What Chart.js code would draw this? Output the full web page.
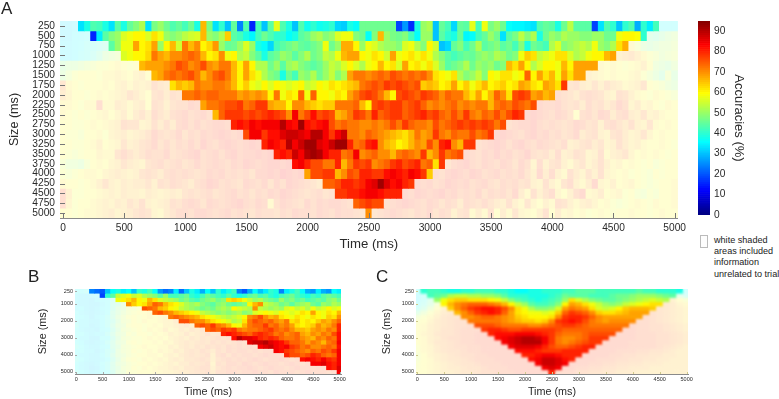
<!DOCTYPE html>
<html>
<head>
<meta charset="utf-8">
<script src="https://cdn.jsdelivr.net/npm/chart.js@4"></script>
<style>
body { margin: 0; background: #fff; font-family: "Liberation Sans", sans-serif; color: #222; }
canvas, .txt, .box { position: absolute; }
.letter { font-size: 17px; line-height: 17px; }
.note { font-size: 9.1px; line-height: 11.2px; left: 714px; top: 235px; white-space: nowrap; }
.box { left: 700px; top: 235px; width: 6px; height: 11px; border: 1px solid #bbb; background: #fdfdfd; }
</style>
</head>
<body>
<canvas id="panel-a" width="690" height="252" style="left:0;top:0"></canvas>
<canvas id="panel-b" width="320" height="119" style="left:30px;top:280px"></canvas>
<canvas id="panel-c" width="320" height="119" style="left:375px;top:280px"></canvas>
<canvas id="colorbar" width="56" height="225" style="left:690px;top:0"></canvas>
<div class="txt letter" style="left:1px;top:0">A</div>
<div class="txt letter" style="left:28px;top:268px">B</div>
<div class="txt letter" style="left:376px;top:268px">C</div>
<div class="box"></div>
<div class="txt note">white shaded<br>areas included<br>information<br>unrelated to trial</div>
<script>
var sizes = [250,500,750,1000,1250,1500,1750,2000,2250,2500,2750,3000,3250,3500,3750,4000,4250,4500,4750,5000];
var sizeTicksSmall = [250,1000,2000,3000,4000,5000];
var timeTicks = [0,500,1000,1500,2000,2500,3000,3500,4000,4500,5000];
var colorbarTicks = [0,10,20,30,40,50,60,70,80,90];

// panel A, 50 ms bins. left / right = shaded cells outside the trial window
var aLeft = [
[33,33,34],
[33,33,35,35,36],
[34,34,35,36,38,38,40,42],
[34,34,35,37,38,40,44,50,52,54],
[48,50,50,52,54,56,58,58,60,62,60,58,60],
[50,54,58,60,60,60,58,62,62,64,62,60,64,66,60],
[72,62,60,58,60,60,60,62,60,64,66,62,66,64,66,74,70,68],
[68,64,60,60,58,60,62,60,62,64,66,72,68,64,60,72,74,68,74,72],
[62,62,60,58,62,62,76,62,62,68,66,62,66,68,60,74,72,66,72,74,74,78,76],
[62,60,58,60,58,60,62,64,60,64,68,62,68,72,66,76,72,68,74,76,78,74,76,78,74],
[60,60,58,58,60,62,60,62,64,66,74,72,72,64,66,74,68,74,68,76,78,74,78,74,76,78,78,76],
[60,58,58,56,60,60,62,58,64,66,68,64,66,68,72,78,74,72,74,78,72,76,74,78,76,78,80,78,76,78],
[60,60,58,58,60,62,66,60,62,64,72,66,68,72,74,78,72,76,72,76,74,78,74,80,76,74,78,80,78,76,78,80,78],
[60,58,56,58,60,60,64,62,62,72,76,72,68,72,76,74,74,78,72,74,76,78,80,74,76,78,74,78,80,76,78,78,80,78,80],
[56,52,52,50,56,60,62,60,64,66,72,68,66,64,72,74,76,72,74,76,72,74,78,74,76,78,76,74,78,76,80,78,76,78,80,80,78,80],
[58,56,58,60,62,62,60,64,66,68,66,64,66,72,74,72,68,74,76,74,76,74,72,74,78,76,78,74,76,74,76,72,78,78,80,78,82,80,78,80],
[62,60,60,58,60,62,66,72,66,64,68,66,68,68,72,66,74,72,76,74,72,68,74,76,80,78,74,76,74,72,78,76,74,78,72,78,74,80,78,76,74,72,68],
[76,66,58,58,60,60,62,64,66,64,68,66,66,64,68,66,64,66,68,66,72,74,72,74,76,72,74,76,78,74,76,72,76,74,78,76,80,78,76,74,72,74,76,72,74],
[76,64,58,60,60,62,64,66,64,68,66,72,68,74,66,64,66,68,74,72,76,78,76,72,78,76,74,76,78,80,76,74,78,76,62,74,78,76,74,72,78,74,78,76,78,78,76,74],
[60,60,58,60,62,62,64,66,68,64,66,68,72,74,72,64,62,68,72,76,76,74,78,78,76,74,76,78,74,76,74,72,76,74,74,72,76,74,78,76,76,74,78,76,74,78,76,76,74,72]
];
var aActive = [
[33,38,43,42,38,33,44,38,45,48,52,33,47,50,46,43,45,42,46,38,66,47,33,40,30,45,24,43,15,42,30,44,57,43,38,30,43,37,40,37,38,40,32,31,38,36,46,46,46,46,46,46,18,26,16,38,50,52,30,45,42,32,45,44,57,42,58,47,50,46,36,35,35,34,33,43,45,44,38,46,53,44,44,44,18,33,43,40,30,40,43,28,40,34,42],
[15,34,44,48,50,56,58,60,60,56,62,58,50,48,50,53,55,56,66,50,48,52,64,44,42,38,35,42,46,43,40,40,36,38,44,46,50,52,48,50,56,58,58,48,46,36,48,66,50,47,46,48,42,36,50,50,30,44,40,38,45,35,36,42,45,50,46,33,44,47,53,48,52,38,46,50,48,52,50,50,48,48,50,50,46,46,58,60,60,59,40],
[44,50,58,58,68,60,62,68,50,60,66,55,72,66,70,60,63,69,50,45,46,50,56,50,38,36,32,42,44,46,48,45,44,46,48,58,46,50,67,67,60,50,58,56,52,50,50,48,56,58,52,48,60,55,30,32,45,48,42,46,52,44,46,48,44,46,42,48,38,46,44,42,52,56,48,50,52,54,52,58,50,48,52,62,67],
[56,58,60,60,63,72,68,66,70,70,72,74,72,66,60,62,70,58,60,52,54,48,44,38,44,46,50,48,44,48,52,46,48,54,52,58,66,68,68,60,58,62,60,55,68,58,60,62,58,62,58,52,48,44,42,44,46,45,48,50,48,52,50,46,48,58,64,62,54,56,58,62,62,56,52,54,58,60,60,66,68],
[66,68,68,68,70,72,76,74,70,72,76,70,68,72,72,66,60,68,60,52,52,46,50,44,50,52,48,46,44,46,50,54,52,56,60,56,52,58,60,66,60,62,56,68,60,62,58,62,56,50,44,46,48,52,46,50,48,50,46,48,66,62,68,60,52,56,60,60,58,66,60,68,68,68,68],
[66,68,72,74,72,74,76,72,66,70,74,76,72,66,60,68,62,58,52,48,46,38,46,42,50,48,52,46,50,54,48,52,68,72,72,70,72,74,72,76,74,72,74,72,74,70,62,60,58,62,52,48,50,54,48,60,58,62,62,58,60,74,60,68,62,66,58,68,62,68,68],
[62,66,64,66,72,70,70,72,72,70,66,60,64,58,56,60,56,60,58,56,58,60,54,56,60,58,62,60,62,64,66,72,74,76,74,78,76,78,76,74,76,64,66,64,60,62,68,60,64,58,62,66,60,62,64,60,62,68,66,62,60,68,66,62,78],
[72,72,74,72,74,74,72,72,72,68,70,68,70,68,60,72,58,62,60,74,58,74,60,60,58,62,60,68,72,76,78,76,72,66,60,76,78,76,74,78,76,74,70,74,72,72,66,62,68,60,66,74,70,62,76,78,76,68,70,66,68],
[68,72,72,74,76,76,78,72,74,78,78,68,66,66,60,70,70,66,64,62,64,64,72,72,72,74,66,60,76,78,76,78,78,74,76,78,74,70,72,70,72,74,70,72,70,72,72,66,72,74,72,76,74,72,76],
[66,74,78,78,78,76,78,76,78,80,78,76,70,84,72,76,82,76,78,76,66,68,72,78,76,72,80,74,76,78,78,74,76,78,80,76,78,74,72,76,72,78,72,70,74,72,76,72,76,80,78],
[80,82,80,84,82,84,84,84,90,84,82,92,82,80,82,84,76,72,74,72,72,70,70,72,70,72,76,72,78,74,72,72,70,76,72,74,76,78,76,78,76,78,76,72,76],
[76,84,84,78,82,82,86,88,88,86,84,90,90,84,78,84,88,72,72,70,74,72,70,68,66,64,62,66,72,68,70,78,72,70,74,72,72,76,72,74,78],
[80,84,82,80,90,84,88,92,92,86,84,88,92,92,80,72,74,80,82,70,66,64,60,62,66,70,68,76,70,80,82,70,66,78,78],
[80,82,80,88,84,90,92,90,84,80,80,72,74,84,70,72,74,70,70,66,72,74,72,70,78,66,70,78,72,74,76],
[82,84,80,76,76,72,72,80,66,72,78,76,78,70,72,74,78,80,76,78,80,72,74,62,78],
[68,76,76,78,78,66,70,76,74,80,80,78,78,82,84,82,80,84,82,78,64],
[74,74,76,80,80,78,80,84,86,92,86,82,84,80,78],
[78,78,80,80,82,84,84,82,80,80,80],
[74,76,78,76,76],
[70]
];
var aRight = [
[36,36,36],
[46,44,47,50,52],
[62,56,50,48,50,52,52,54],
[66,68,70,66,62,58,56,52,54,56],
[62,60,62,60,58,60,62,66,60,52,50,48,52],
[66,64,62,60,62,60,60,62,64,58,54,50,46,56,48],
[72,74,68,66,72,66,72,68,66,62,64,66,72,60,58,56,52,50],
[76,74,72,68,74,76,74,72,66,64,74,72,66,62,60,58,62,60,58,56],
[78,76,76,78,74,72,74,68,76,72,74,68,72,78,74,64,68,62,64,60,58,62,60],
[78,80,78,76,74,78,76,72,60,74,76,72,78,76,68,74,76,68,66,72,64,66,62,60,60],
[74,76,78,78,80,76,74,76,74,72,74,78,76,72,74,66,74,76,72,68,74,66,64,72,62,60,62,60],
[78,80,78,76,74,78,80,76,78,74,76,72,74,78,68,72,74,66,64,72,74,68,64,66,72,64,60,62,60,60],
[74,76,78,80,78,74,78,80,76,74,78,76,74,72,76,66,68,72,74,68,72,64,66,74,68,64,66,62,60,60,62,60,58],
[78,76,74,78,76,80,76,78,74,76,80,74,72,74,68,76,66,68,74,72,64,66,74,62,66,68,72,64,60,62,60,62,60,58,60],
[72,76,78,80,76,74,78,76,74,78,76,72,78,74,64,76,66,72,74,66,62,68,72,64,68,74,66,62,64,60,62,60,58,60,56,58,60,60],
[76,74,78,80,78,76,80,78,74,76,78,74,76,74,78,72,66,78,68,76,66,62,74,68,64,72,66,74,64,62,60,62,58,60,58,56,60,58,60,60],
[78,76,78,74,76,80,78,76,78,74,76,78,74,72,76,74,76,72,74,66,64,74,66,62,72,76,66,62,68,78,64,62,66,60,62,64,60,58,56,58,60,60,62],
[78,76,80,78,76,78,80,76,78,74,76,74,78,72,76,74,76,72,78,68,62,74,66,72,76,64,60,66,74,78,62,64,68,60,62,64,58,60,56,54,58,56,60,60,62],
[74,76,78,80,78,76,74,78,76,72,76,74,68,76,74,72,76,72,68,66,74,66,62,72,64,60,66,62,74,72,66,62,66,68,64,60,62,58,56,58,60,62,60,58,62,60,60,62],
[72,74,76,78,76,74,72,76,74,78,72,76,74,66,72,74,62,68,62,74,60,68,62,72,64,62,60,66,74,60,68,62,64,60,62,58,60,62,60,58,60,60,62,60,60,58,60,62,60,60]
];

// panel B, 100 ms bins
var bLeft = [
[36,36,38],
[34,33,33,34,35],
[34,33,33,32,34,35,36,40],
[34,33,33,32,32,34,36,42,44,50],
[34,35,33,32,33,35,36,42,48,50,56,56,58],
[36,34,33,32,33,34,36,44,48,52,56,58,60,60,62],
[36,35,34,32,34,35,38,44,50,54,58,60,58,60,62,60,62,64],
[36,34,34,33,33,35,38,42,48,54,56,60,58,62,60,60,62,64,64,68],
[38,34,34,32,33,35,38,44,50,52,58,60,60,58,60,62,60,64,64,66,68,70,66],
[36,34,33,33,32,35,36,42,48,54,56,58,60,58,62,60,62,66,62,64,68,66,70,68,72],
[36,36,34,33,34,34,38,44,50,52,58,56,60,60,58,62,60,62,66,64,66,70,66,68,70,74,70,72],
[36,34,34,32,32,36,36,42,48,54,56,58,58,60,62,60,62,60,64,66,68,66,70,68,72,70,72,74,72,74],
[36,35,33,32,33,34,38,44,50,52,58,60,58,60,60,62,60,64,62,66,68,70,68,70,72,70,74,72,74,72,74,76,74],
[38,36,34,33,33,35,36,44,48,54,56,58,60,62,60,60,62,62,66,64,68,70,68,72,70,74,72,74,72,76,74,76,74,76,74],
[36,36,34,34,32,34,38,42,50,54,56,60,58,60,62,60,64,62,64,68,66,70,72,70,74,72,68,74,72,76,74,76,76,74,76,74,76,76],
[36,34,34,33,33,35,38,44,50,52,56,58,60,60,62,62,60,64,66,64,68,70,72,70,72,74,66,74,76,72,76,74,76,76,74,76,78,76,76,76],
[38,36,34,33,33,34,36,42,48,54,58,60,58,62,60,62,64,62,66,68,66,70,70,72,74,72,66,72,74,76,74,76,74,76,78,76,74,76,76,78,76,74,76],
[36,34,33,32,33,36,38,44,50,52,56,58,60,60,62,60,62,64,66,64,68,68,72,70,72,74,64,74,72,76,76,74,78,76,74,76,78,76,76,74,76,78,76,74,76],
[36,34,33,31,32,35,38,44,48,54,56,60,58,62,60,62,64,64,66,68,66,70,70,72,74,74,66,72,74,76,74,76,76,78,76,74,76,78,76,76,74,76,78,76,76,74,76,76],
[38,36,34,33,34,35,36,42,50,52,58,58,60,60,60,62,62,64,64,66,68,68,70,72,72,74,68,74,74,76,76,74,76,76,78,76,76,74,78,76,76,76,74,76,78,76,76,76,74,76]
];
var bActive = [
[24,22,20,30,36,38,34,36,30,40,38,42,36,26,22,24,34,22,30,38,34,28,36,30,40,34,38,42,24,20,28,36,30,34,40,38,24,34,38,42,36,28,26,34,28,26,36,34],
[18,40,44,54,56,58,54,56,52,50,48,44,50,42,42,44,46,40,38,42,46,44,42,40,44,40,38,40,44,46,42,44,40,38,42,44,46,42,40,38,42,40,44,46,44,42],
[58,60,62,66,60,58,66,62,56,54,52,50,46,48,44,42,46,48,50,46,48,62,64,62,58,54,50,52,48,46,44,50,46,48,44,46,42,44,46,44,48,50,46],
[70,64,60,62,68,74,72,66,62,60,56,52,50,52,48,46,44,48,50,46,44,46,48,60,66,70,54,52,50,46,48,44,48,50,52,46,44,50,48,52,50],
[76,74,72,66,64,60,58,54,52,50,48,46,48,46,50,52,50,60,56,54,52,70,54,52,50,52,50,56,58,54,56,52,58,54,56,60,56,58],
[74,76,72,70,66,64,62,60,58,54,52,50,48,50,48,50,52,48,50,56,58,60,58,56,60,58,56,58,62,60,68,60,58,62,60,66],
[72,74,72,70,68,66,62,60,58,56,54,52,54,56,60,70,72,76,70,66,68,62,60,58,62,60,58,62,60,58,64,62,70],
[76,76,72,70,70,66,62,60,58,56,52,54,62,72,76,74,72,74,70,68,72,62,64,60,62,60,64,68,66,70,74],
[74,76,74,78,72,70,66,60,58,66,72,74,74,78,72,74,70,72,68,62,60,62,64,70,66,68,72,80],
[74,76,74,78,76,78,72,70,72,72,74,76,78,74,72,74,70,66,66,64,68,70,68,72,70,80],
[80,82,80,78,76,74,78,80,78,76,72,74,70,72,74,68,66,70,68,72,70,76,82],
[82,90,86,86,84,80,78,80,78,74,72,72,74,70,68,66,72,70,74,72,82],
[86,88,88,90,86,84,82,78,74,74,72,68,72,70,66,72,74,84],
[84,86,88,84,82,84,78,76,72,74,70,70,72,74,72,82],
[84,82,78,76,74,72,70,74,72,76,74,78,84],
[80,76,76,74,76,80,78,74,72,74,84],
[82,84,82,80,84,80,78,84],
[84,84,86,82,80,84],
[82,80,86],
[84]
];

// panel C, 125 ms bins
var cLeft = [
[36],
[34,38],
[34,38,44],
[36,40,46,56],
[38,44,52,60,66],
[46,52,58,64,68,70],
[54,58,62,66,70,72,72],
[58,60,64,68,70,72,74,74],
[60,62,66,68,70,72,74,74,76],
[60,62,66,68,72,72,74,76,76,76],
[60,64,66,70,72,72,74,76,76,78,78],
[60,62,66,68,72,74,74,76,76,78,78,78],
[60,62,66,70,70,72,74,76,76,78,78,78,78],
[58,62,64,68,70,72,74,74,76,76,78,78,78,78],
[58,62,64,68,70,72,72,74,76,76,78,78,78,78,78],
[56,60,64,66,68,70,72,74,74,76,76,78,78,78,78,78],
[56,60,62,66,68,70,70,72,74,76,76,76,78,78,78,78,78],
[58,60,62,64,66,68,70,72,72,74,76,76,76,78,78,78,78,78],
[58,60,62,64,66,68,68,70,72,72,74,76,76,76,78,78,78,78,78],
[60,60,62,64,66,66,68,70,70,72,74,74,76,76,76,78,78,78,78,78]
];
var cActive = [
[40,42,42,40,38,38,40,40,42,42,42,40,40,38,36,36,38,38,40,40,40,42,42,44,44,44,42,42,42,42,42,42,44,42,42,40,40,40,38],
[42,44,46,52,54,54,52,52,50,50,48,44,40,40,40,38,38,38,40,42,46,44,44,44,42,42,42,44,46,46,48,50,50,50,48,46,44],
[50,58,62,64,64,62,62,62,60,58,54,48,44,42,40,38,40,42,44,50,62,56,52,48,46,44,44,46,48,50,52,54,56,54,52],
[60,66,70,72,74,74,74,72,70,66,60,54,50,44,42,42,44,48,60,68,66,62,58,54,50,48,50,54,56,58,60,62,62],
[64,70,74,78,80,82,82,80,76,70,62,58,52,48,48,50,56,68,72,70,68,62,56,54,56,60,64,66,66,66,64],
[66,70,74,78,80,82,80,74,68,62,60,58,58,56,58,64,74,78,76,74,70,64,62,62,64,66,68,68,68],
[70,70,72,74,74,72,70,68,64,62,60,60,60,62,70,78,80,80,78,74,70,68,68,68,68,68,68],
[72,72,72,72,72,70,68,66,64,64,62,64,70,78,80,82,80,76,72,70,68,70,70,70,70],
[76,76,76,74,72,72,72,72,70,70,72,74,76,78,78,76,74,72,72,72,72,72,72],
[78,80,80,78,76,76,78,78,78,78,78,76,74,74,74,74,74,74,74,74,74],
[80,82,82,82,84,84,84,82,80,78,74,72,72,72,74,76,76,76,76],
[82,84,86,88,90,90,88,84,78,72,70,70,72,74,78,78,78],
[84,86,88,90,90,90,84,78,72,70,72,74,76,78,78],
[84,86,86,86,84,80,76,74,74,76,78,80,80],
[82,82,82,80,78,78,78,80,80,80,80],
[80,80,82,84,84,82,80,80,80],
[82,84,88,88,86,82,80],
[84,88,88,86,84],
[84,86,84],
[80]
];
var cRight = [
[36],
[46,40],
[66,60,56],
[70,68,64,62],
[72,70,68,66,64],
[74,72,70,68,66,64],
[76,74,72,70,68,66,64],
[76,76,74,72,70,68,66,64],
[78,76,76,74,74,72,70,68,66],
[78,78,76,76,74,74,72,70,68,66],
[78,78,78,76,76,76,74,74,72,70,68],
[78,78,78,78,76,76,76,74,74,72,70,68],
[78,78,78,78,76,76,76,76,74,74,72,70,68],
[78,78,78,78,78,76,76,76,76,74,72,70,68,66],
[78,78,78,78,76,76,76,74,74,72,72,70,68,66,66],
[78,78,78,78,76,76,74,74,72,72,70,70,68,68,66,66],
[78,78,78,76,76,76,74,74,72,72,70,70,68,68,66,66,66],
[78,78,78,76,76,74,74,72,72,70,70,68,68,68,66,66,66,66],
[78,78,76,76,74,74,72,72,70,70,68,68,68,66,66,66,66,66,66],
[76,76,76,74,74,72,72,70,70,68,68,68,66,66,66,66,66,66,66,66]
];

var FONT = '"Liberation Sans", sans-serif';
var TEXT_COLOR = '#2a2a2a';
var MAX_ACC = 95;

function clamp01(v) {
    return Math.max(0, Math.min(1, v));
}
// jet colormap, shaded cells sit under a white veil
function jet(v, shaded) {
    var t = v / MAX_ACC;
    var rgb = [1.5 - Math.abs(4 * t - 3), 1.5 - Math.abs(4 * t - 2), 1.5 - Math.abs(4 * t - 1)].map(clamp01);
    var mixed = rgb.map(function(c) {
        return Math.round(shaded ? c * 255 * 0.18 + 255 * 0.82 : c * 255);
    });
    return 'rgb(' + mixed.join(',') + ')';
}

// one bar dataset per size row, floating over [size-125, size+125]
function rowDatasets(step, nCols, left, active, right) {
    return sizes.map(function(size, i) {
        var data = [], colors = [];
        function add(values, from, shaded) {
            values.forEach(function(v, k) {
                data.push({ x: (from + k) * step, y: [size - 125, size + 125] });
                colors.push(jet(v, shaded));
            });
        }
        add(left[i], 0, true);
        add(active[i], left[i].length, false);
        if (right) {
            add(right[i], nCols - right[i].length, true);
        }
        return { data: data, backgroundColor: colors, borderWidth: 0 };
    });
}

// the source figure is a soft raster, so soften the finished cells a little
var softCells = {
    id: 'softCells',
    afterDatasetsDraw: function(chart, args, opts) {
        var a = chart.chartArea, ctx = chart.ctx;
        var w = Math.round(a.right - a.left), h = Math.round(a.bottom - a.top);
        var l = Math.round(a.left), t = Math.round(a.top);
        var off = document.createElement('canvas');
        off.width = w;
        off.height = h;
        off.getContext('2d').drawImage(chart.canvas, l, t, w, h, 0, 0, w, h);
        ctx.save();
        ctx.beginPath();
        ctx.rect(l, t, w, h);
        ctx.clip();
        ctx.filter = 'blur(' + opts.blur + 'px)';
        ctx.drawImage(off, l, t);
        ctx.restore();
    }
};

var inwardTicks = {
    id: 'inwardTicks',
    afterDatasetsDraw: function(chart, args, opts) {
        var ctx = chart.ctx, x = chart.scales.x, y = chart.scales.y, a = chart.chartArea;
        ctx.save();
        ctx.strokeStyle = opts.color;
        ctx.lineWidth = 1;
        x.ticks.forEach(function(t) {
            var px = Math.round(x.getPixelForValue(t.value)) + 0.5;
            ctx.beginPath();
            ctx.moveTo(px, a.bottom);
            ctx.lineTo(px, a.bottom - opts.length);
            ctx.stroke();
        });
        y.ticks.forEach(function(t) {
            var py = Math.round(y.getPixelForValue(t.value)) + 0.5;
            ctx.beginPath();
            ctx.moveTo(a.left, py);
            ctx.lineTo(a.left + opts.length, py);
            ctx.stroke();
        });
        ctx.restore();
    }
};

function panel(id, o) {
    var tickFont = { family: FONT, size: o.tickSize };
    return new Chart(document.getElementById(id), {
        type: 'bar',
        data: { datasets: rowDatasets(o.step, o.nCols, o.left, o.active, o.right) },
        plugins: [softCells, inwardTicks],
        options: {
            responsive: false,
            animation: false,
            devicePixelRatio: 1,
            layout: { padding: { top: o.top, right: o.rightPad, left: 0, bottom: 0 } },
            datasets: { bar: { grouped: false, categoryPercentage: 1, barPercentage: 1 } },
            plugins: {
                legend: { display: false },
                tooltip: { enabled: false },
                softCells: { blur: o.blur },
                inwardTicks: { length: o.tickLen, color: o.tickColor }
            },
            scales: {
                x: {
                    type: 'linear', offset: false, min: -25, max: 5025,
                    afterBuildTicks: function(s) {
                        s.ticks = timeTicks.map(function(v) { return { value: v }; });
                    },
                    afterFit: function(s) { s.height = o.xHeight; },
                    grid: { display: true, drawOnChartArea: false, drawTicks: false, offset: false },
                    border: { display: true, color: '#8a8a8a' },
                    ticks: {
                        autoSkip: false, maxRotation: 0, padding: o.xPad, color: TEXT_COLOR, font: tickFont,
                        callback: function(v) { return String(v); }
                    },
                    title: { display: true, text: 'Time (ms)', color: TEXT_COLOR, font: { family: FONT, size: o.xTitleSize }, padding: 0 }
                },
                y: {
                    type: 'linear', reverse: true, min: 125, max: 5125,
                    afterBuildTicks: function(s) {
                        s.ticks = o.yTicks.map(function(v) { return { value: v }; });
                    },
                    afterFit: function(s) { s.width = o.yWidth; },
                    grid: { display: false, drawTicks: false },
                    border: { display: false },
                    ticks: {
                        autoSkip: false, padding: o.yPad, color: TEXT_COLOR, font: tickFont,
                        callback: function(v) { return String(v); }
                    },
                    title: { display: true, text: 'Size (ms)', color: TEXT_COLOR, font: { family: FONT, size: o.yTitleSize }, padding: { top: o.titlePad, bottom: 0 } }
                }
            }
        }
    });
}

panel('panel-a', {
    step: 50, nCols: 101, left: aLeft, active: aActive, right: aRight, yTicks: sizes,
    top: 21, rightPad: 8, yWidth: 60, xHeight: 34, tickSize: 10.2, xTitleSize: 13.2, yTitleSize: 12.6,
    xPad: 4, yPad: 5, titlePad: 7, tickLen: 5, tickColor: '#777', blur: 0.6
});
panel('panel-b', {
    step: 100, nCols: 51, left: bLeft, active: bActive, yTicks: sizeTicksSmall,
    top: 9, rightPad: 9, yWidth: 45, xHeight: 25, tickSize: 5.5, xTitleSize: 10.8, yTitleSize: 10.8,
    xPad: 2, yPad: 2, titlePad: 7, tickLen: 2, tickColor: '#aaa', blur: 0.6
});
panel('panel-c', {
    step: 125, nCols: 41, left: cLeft, active: cActive, right: cRight, yTicks: sizeTicksSmall,
    top: 9, rightPad: 7, yWidth: 41, xHeight: 25, tickSize: 5.5, xTitleSize: 10.8, yTitleSize: 10.8,
    xPad: 2, yPad: 2, titlePad: 6, tickLen: 2, tickColor: '#cfc98a', blur: 1.1
});

// colour bar: one floating bar per accuracy level
var barLevels = [];
for (var lvl = 0; lvl < MAX_ACC; lvl++) {
    barLevels.push(lvl);
}
new Chart(document.getElementById('colorbar'), {
    type: 'bar',
    data: {
        labels: [''],
        datasets: barLevels.map(function(l) {
            return { data: [[l, l + 1]], backgroundColor: jet(l + 0.5, false), borderWidth: 0 };
        })
    },
    options: {
        responsive: false,
        animation: false,
        devicePixelRatio: 1,
        layout: { padding: { top: 21, left: 8, right: 0, bottom: 7 } },
        datasets: { bar: { grouped: false, categoryPercentage: 1, barPercentage: 1 } },
        plugins: { legend: { display: false }, tooltip: { enabled: false } },
        scales: {
            x: { display: false },
            y: {
                position: 'right', min: 0, max: MAX_ACC,
                afterBuildTicks: function(s) {
                    s.ticks = colorbarTicks.map(function(v) { return { value: v }; });
                },
                afterFit: function(s) { s.width = 36; },
                grid: { display: false, drawTicks: false },
                border: { display: false },
                ticks: { padding: 4, color: TEXT_COLOR, font: { family: FONT, size: 10.2 } },
                title: { display: true, text: 'Accuracies (%)', color: TEXT_COLOR, font: { family: FONT, size: 13 }, padding: 0 }
            }
        }
    }
});
</script>
</body>
</html>
